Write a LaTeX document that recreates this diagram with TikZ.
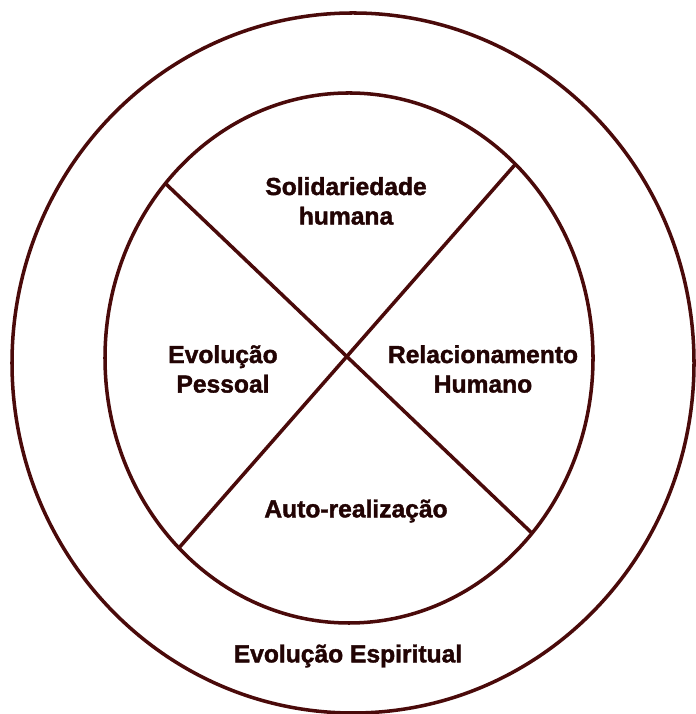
\documentclass[tikz,border=0pt]{standalone}
\usepackage{fontspec}
\setmainfont{Liberation Sans}[BoldFeatures={FakeBold=1.6}]
\usepackage{tikz}
\usetikzlibrary{calc,positioning}

\definecolor{weinrot}{RGB}{74,10,10}
\definecolor{schrift}{RGB}{34,4,4}

\begin{document}
\begin{tikzpicture}[x=0.025cm, y=0.025cm,
	linie/.style={draw=weinrot, line width=2.5pt},
	feld/.style={text=schrift, font=\bfseries\fontsize{17.5}{21}\selectfont, align=center, inner sep=0pt}]

	\useasboundingbox (0,0) rectangle (695,714);

	%Kreise
	\coordinate (aussen) at (353,351);
	\coordinate (innen) at (349,356);
	\draw[linie] (aussen) ellipse [x radius=341, y radius=350];
	\draw[linie] (innen) ellipse [x radius=244, y radius=265];

	%Kreuz
	\coordinate (ol) at ($(innen)+(138.8:244 and 265)$);
	\coordinate (or) at ($(innen)+(47:244 and 265)$);
	\coordinate (ul) at ($(innen)+(225.8:244 and 265)$);
	\coordinate (ur) at ($(innen)+(318.6:244 and 265)$);
	\draw[linie] (ol) -- (ur);
	\draw[linie] (or) -- (ul);

	%Felder
	\node[feld] (solidariedade) at (346,513) {Solidariedade\\humana};
	\node[feld] (pessoal) at (223,345) {Evolução\\Pessoal};
	\node[feld] (relacionamento) at (483,345) {Relacionamento\\Humano};
	\node[feld] (auto) at (356,203) {Auto-realização};
	\node[feld] (espiritual) at (348,58) {Evolução Espiritual};

\end{tikzpicture}
\end{document}
